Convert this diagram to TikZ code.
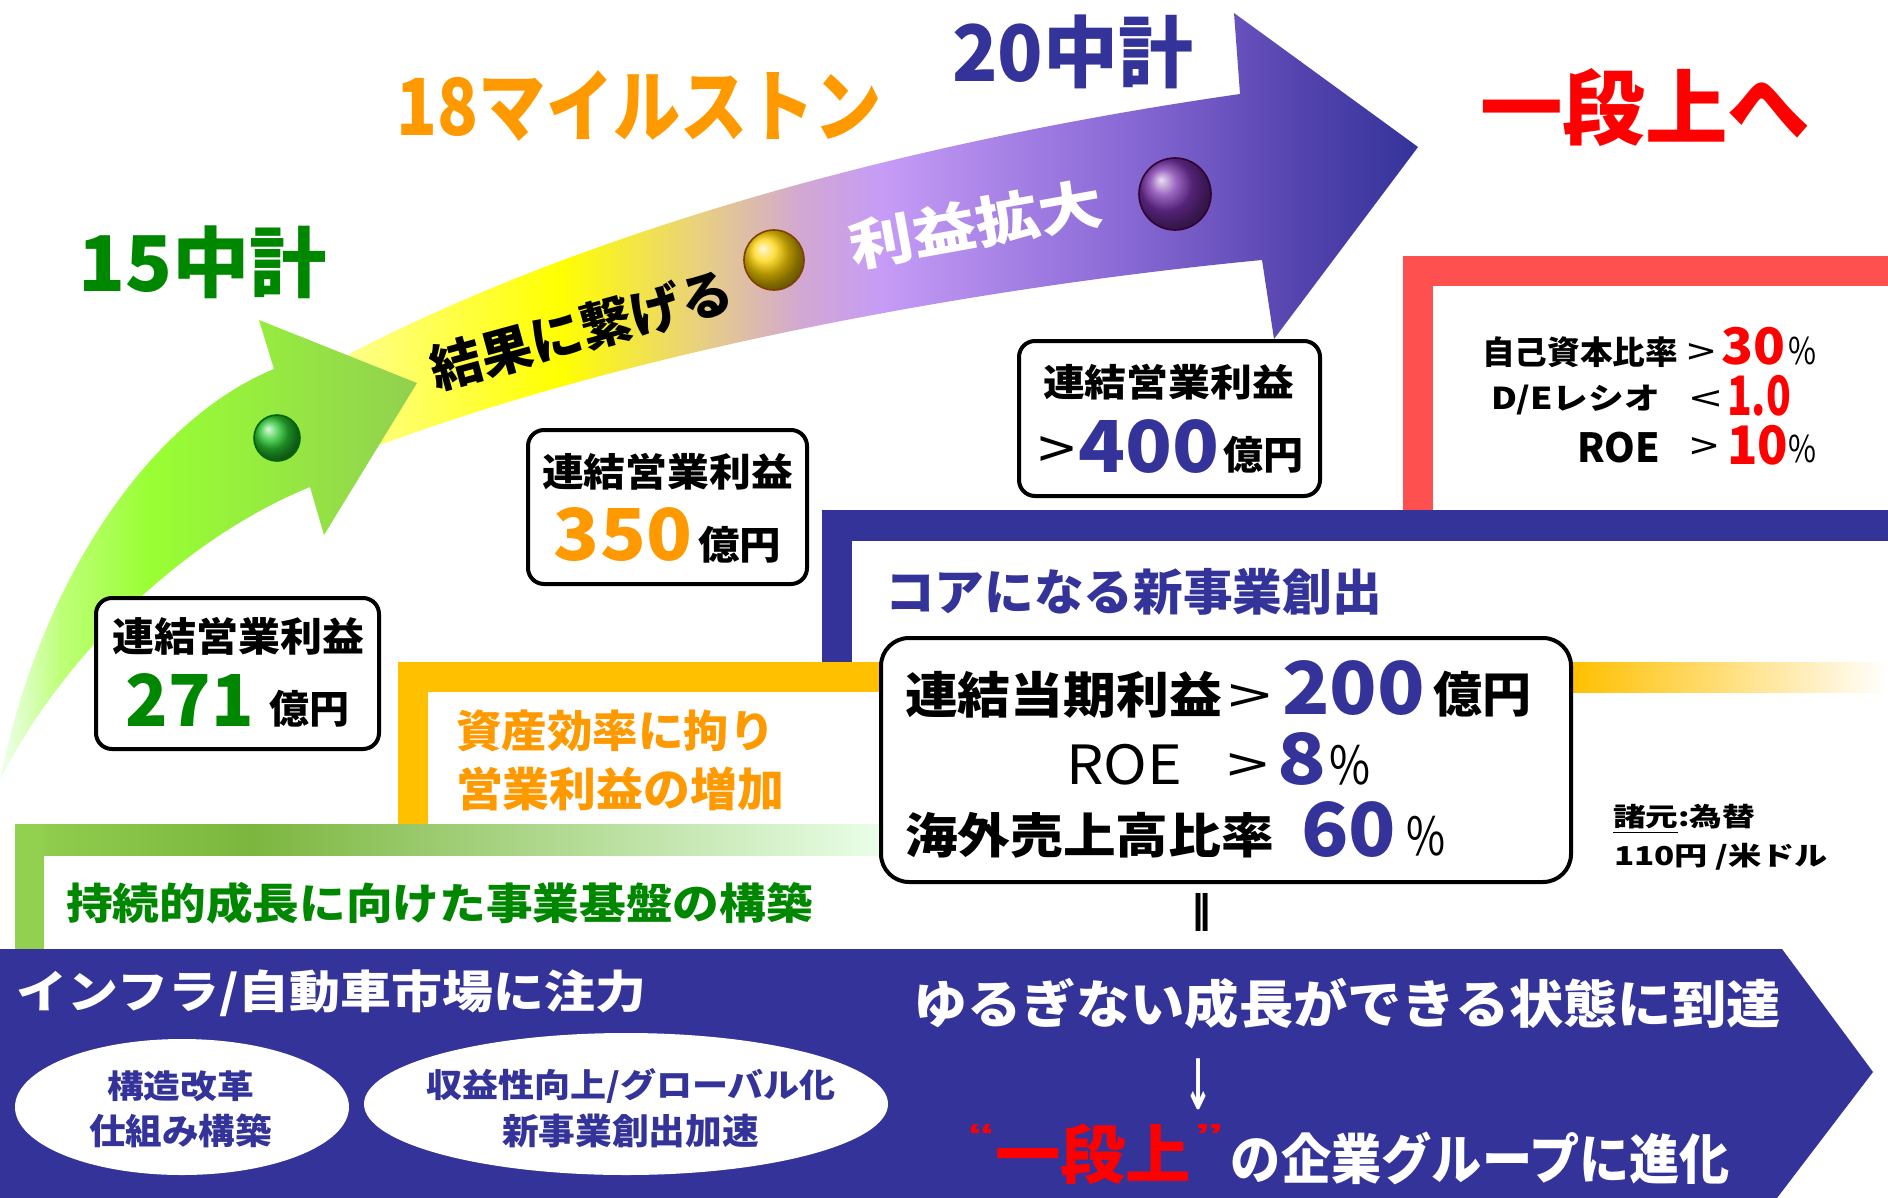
\documentclass[tikz,border=0pt]{standalone}
\usepackage{fontspec}
\usepackage{graphicx}
\newfontfamily\jp{Noto Sans CJK JP}
\newfontfamily\lat{Liberation Sans}
\newfontfamily\dv{DejaVu Sans}
\newlength\pxu
\setlength\pxu{0.5pt}
% text squeezed to a given ink width and height (in px)
\newcommand\fit[3]{\resizebox*{#1\pxu}{#2\pxu}{\jp\bfseries #3}}
\newcommand\fitr[3]{\resizebox*{#1\pxu}{#2\pxu}{\jp #3}}
\newcommand\fitl[3]{\resizebox*{#1\pxu}{#2\pxu}{\lat\bfseries #3}}
\newcommand\fitd[3]{\resizebox*{#1\pxu}{#2\pxu}{\dv\bfseries #3}}

\definecolor{navy}{RGB}{51,51,153}
\definecolor{jgreen}{RGB}{0,135,0}
\definecolor{jorange}{RGB}{255,153,0}
\definecolor{jred}{RGB}{255,0,0}
\definecolor{framered}{RGB}{255,80,80}
\definecolor{frameorange}{RGB}{255,192,0}
\definecolor{framegreen}{RGB}{146,208,80}
\definecolor{framegreendk}{RGB}{124,182,62}

\tikzset{
  lbl/.style={inner sep=0pt, outer sep=0pt},
  bubble/.style={draw=black, line width=2pt, fill=white, rounded corners=8pt},
  oval/.style={fill=white},
  ballrim/.style={draw=#1, line width=0.8pt}
}

\begin{document}
\begin{tikzpicture}[x=0.5pt,y=-0.5pt]
\useasboundingbox (0,0) rectangle (1888,1198);
\fill[white] (0,0) rectangle (1888,1198);

% ---------- stepped frames ----------
\fill[framered] (1403,256) rectangle (1888,286);
\fill[framered] (1403,256) rectangle (1433,511);
\fill[navy] (822,510) rectangle (1888,541);
\fill[navy] (822,510) rectangle (852,662);
\fill[frameorange] (398,662) rectangle (1574,692);
\shade[left color=frameorange, right color=white] (1573,662) rectangle (1888,692);
\fill[frameorange] (398,662) rectangle (428,824);
\shade[left color=framegreen, right color=framegreendk] (15,824) rectangle (251,855);
\shade[left color=framegreendk, right color=green!8!white] (250,824) rectangle (890,855);
\fill[framegreen] (15,824) rectangle (44,949);

% ---------- main growth band ----------
\begin{scope}
\clip (349,354) .. controls (550,250) and (850,150) .. (1240,94)
      -- (1234,13) -- (1418,147) -- (1274,339) -- (1262,260)
      .. controls (1000,285) and (650,345) .. (380,445) -- cycle;
\shade[left color={rgb,255:red,255;green,255;blue,150}, right color=yellow] (330,0) rectangle (561,480);
\shade[left color=yellow, right color={rgb,255:red,232;green,208;blue,128}] (560,0) rectangle (701,480);
\shade[left color={rgb,255:red,232;green,208;blue,128}, right color={rgb,255:red,210;green,168;blue,210}] (700,0) rectangle (801,480);
\shade[left color={rgb,255:red,210;green,168;blue,210}, right color={rgb,255:red,198;green,156;blue,246}] (800,0) rectangle (881,480);
\shade[left color={rgb,255:red,198;green,156;blue,246}, right color={rgb,255:red,138;green,106;blue,214}] (880,0) rectangle (1121,480);
\shade[left color={rgb,255:red,138;green,106;blue,214}, right color={rgb,255:red,84;green,67;blue,174}] (1120,0) rectangle (1301,480);
\shade[left color={rgb,255:red,84;green,67;blue,174}, right color=navy] (1300,0) rectangle (1420,480);
\end{scope}

% ---------- first (green) arrow ----------
\begin{scope}
\clip (0,780) .. controls (60,660) and (180,540) .. (310,487)
      -- (324,535) -- (417,383) -- (259,320) -- (274,369)
      .. controls (150,420) and (40,580) .. (0,780) -- cycle;
\shade[left color=green!6!white, right color={rgb,255:red,190;green,255;blue,120}] (0,300) rectangle (61,800);
\shade[left color={rgb,255:red,190;green,255;blue,120}, right color={rgb,255:red,153;green,255;blue,51}] (60,300) rectangle (151,800);
\shade[left color={rgb,255:red,153;green,255;blue,51}, right color=framegreen] (150,300) rectangle (420,800);
\end{scope}

% ---------- milestone balls ----------
\shade[ball color={rgb,255:red,40;green,200;blue,50}] (277,438) circle (23);
\draw[ballrim=green!40!black] (277,438) circle (23);
\shade[ball color={rgb,255:red,255;green,210;blue,0}] (774,260) circle (30);
\draw[ballrim=orange!50!black] (774,260) circle (30);
\shade[ball color={rgb,255:red,120;green,50;blue,170}] (1175,194) circle (36);
\draw[ballrim=violet!40!black] (1175,194) circle (36);

% ---------- band labels ----------
\node[lbl, rotate=15.3] (bandA) at (581,330) {\fit{311}{50}{結果に繋げる}};
\node[lbl, rotate=10.2, text=white] (bandB) at (976,224) {\fit{256}{52}{利益拡大}};

% ---------- milestone titles ----------
\node[lbl, text=jgreen] (t15) at (202.5,262.5) {\fit{249}{73}{15中計}};
\node[lbl, text=jorange] (t18) at (639.5,106.5) {\fit{485}{71}{18マイルストン}};
\node[lbl, text=navy] (t20) at (1072.5,52) {\fit{241}{74}{20中計}};
\node[lbl, text=jred] (tup) at (1645,108) {\fit{330}{78}{一段上へ}};

% ---------- profit boxes ----------
\draw[bubble] (96,598) rectangle (379,749);
\node[lbl] (b1a) at (238,636) {\fit{252}{38}{連結営業利益}};
\node[lbl, text=jgreen] (b1b) at (190,699.5) {\fit{128}{53}{271}};
\node[lbl] (b1c) at (309,708.5) {\fit{80}{37}{億円}};

\draw[bubble] (528,430) rectangle (807,584);
\node[lbl] (b2a) at (667.5,471.5) {\fit{251}{37}{連結営業利益}};
\node[lbl, text=jorange] (b2b) at (623,534) {\fit{138}{54}{350}};
\node[lbl] (b2c) at (739.5,544.5) {\fit{83}{37}{億円}};

\draw[bubble] (1019,341) rectangle (1320,496);
\node[lbl] (b3a) at (1168.5,382) {\fit{251}{36}{連結営業利益}};
\node[lbl] (b3g) at (1056.5,452.5) {\fitr{37}{33}{>}};
\node[lbl, text=navy] (b3b) at (1148.5,446) {\fit{141}{54}{400}};
\node[lbl] (b3c) at (1263,454.5) {\fit{80}{37}{億円}};

% ---------- financial targets ----------
\node[lbl] (r1a) at (1580,352) {\fit{196}{31}{自己資本比率}};
\node[lbl] (r1g) at (1701,354) {\fitr{28}{22}{>}};
\node[lbl, text=jred] (r1b) at (1753,346) {\fit{64}{38}{30}};
\node[lbl] (r1c) at (1802,351) {\fitr{28}{28}{\%}};
\node[lbl] (r2a) at (1575.5,400) {\fit{169}{30}{D/Eレシオ}};
\node[lbl] (r2g) at (1705.5,401) {\fitr{31}{22}{<}};
\node[lbl, text=jred] (r2b) at (1759,395.5) {\fit{64}{41}{1.0}};
\node[lbl] (r3a) at (1618.5,447.5) {\fit{83}{31}{ROE}};
\node[lbl] (r3g) at (1704,448.5) {\fitr{28}{23}{>}};
\node[lbl, text=jred] (r3b) at (1757.5,445) {\fit{61}{40}{10}};
\node[lbl] (r3c) at (1802,449) {\fitr{28}{28}{\%}};

% ---------- frame captions ----------
\node[lbl, text=navy] (cNew) at (1133.5,591.5) {\fit{497}{47}{コアになる新事業創出}};
\node[lbl, text=jorange] (cOr1) at (615.5,730.5) {\fit{319}{42}{資産効率に拘り}};
\node[lbl, text=jorange] (cOr2) at (620,789) {\fit{328}{44}{営業利益の増加}};
\node[lbl, text=jgreen] (cGr) at (439.5,903) {\fit{747}{42}{持続的成長に向けた事業基盤の構築}};

% ---------- 20 plan targets ----------
\draw[bubble, rounded corners=14pt] (881,638) rectangle (1571,882);
\node[lbl] (p1a) at (1063.5,694.5) {\fit{317}{47}{連結当期利益}};
\node[lbl] (p1g) at (1249.5,699) {\fitr{43}{30}{>}};
\node[lbl, text=navy] (p1b) at (1353.5,688.5) {\fit{143}{55}{200}};
\node[lbl] (p1c) at (1482,694) {\fit{98}{46}{億円}};
\node[lbl] (p2a) at (1124,764.5) {\fitr{116}{41}{ROE}};
\node[lbl] (p2g) at (1247.5,768) {\fitr{41}{30}{>}};
\node[lbl, text=navy] (p2b) at (1301.5,758.5) {\fit{49}{53}{8}};
\node[lbl] (p2c) at (1349.5,765) {\fitr{41}{40}{\%}};
\node[lbl] (p3a) at (1089.5,835) {\fit{369}{46}{海外売上高比率}};
\node[lbl, text=navy] (p3b) at (1348.5,830) {\fit{95}{56}{60}};
\node[lbl] (p3c) at (1425.5,836) {\fitr{39}{40}{\%}};
\node[lbl] (eq) at (1201,912) {\fitd{22}{38}{‖}};

\node[lbl] (note1) at (1684,819.5) {\fit{142}{30}{\underline{諸元}:為替}};
\node[lbl] (note2) at (1721,856.5) {\fit{214}{27}{110円 /米ドル}};

% ---------- bottom arrow ----------
\fill[navy] (0,949) -- (1782,949) -- (1873,1072) -- (1777,1198) -- (0,1198) -- cycle;
\node[lbl, text=white] (focus) at (331.5,993.5) {\fit{629}{47}{インフラ/自動車市場に注力}};
\fill[oval] (182,1107) ellipse [x radius=167, y radius=68];
\fill[oval] (626,1104) ellipse [x radius=262, y radius=71];
\node[lbl, text=navy] (e1a) at (180.5,1086.5) {\fit{147}{31}{構造改革}};
\node[lbl, text=navy] (e1b) at (180.5,1131) {\fit{183}{34}{仕組み構築}};
\node[lbl, text=navy] (e2a) at (631,1086.5) {\fit{410}{35}{収益性向上/グローバル化}};
\node[lbl, text=navy] (e2b) at (630.5,1131) {\fit{257}{34}{新事業創出加速}};

\node[lbl, text=white] (goal) at (1347,1003.5) {\fit{867}{51}{ゆるぎない成長ができる状態に到達}};
\node[lbl, text=white] (down) at (1198,1084.5) {\fitd{28}{51}{↓}};
\node[lbl, text=jred] (q1) at (981,1135) {\fitl{29}{22}{“}};
\node[lbl, text=jred] (evo) at (1093,1154.5) {\fit{196}{61}{一段上}};
\node[lbl, text=jred] (q2) at (1209,1135) {\fitl{31}{22}{”}};
\node[lbl, text=white] (evo2) at (1480.5,1158.5) {\fit{499}{53}{の企業グループに進化}};
\end{tikzpicture}
\end{document}
